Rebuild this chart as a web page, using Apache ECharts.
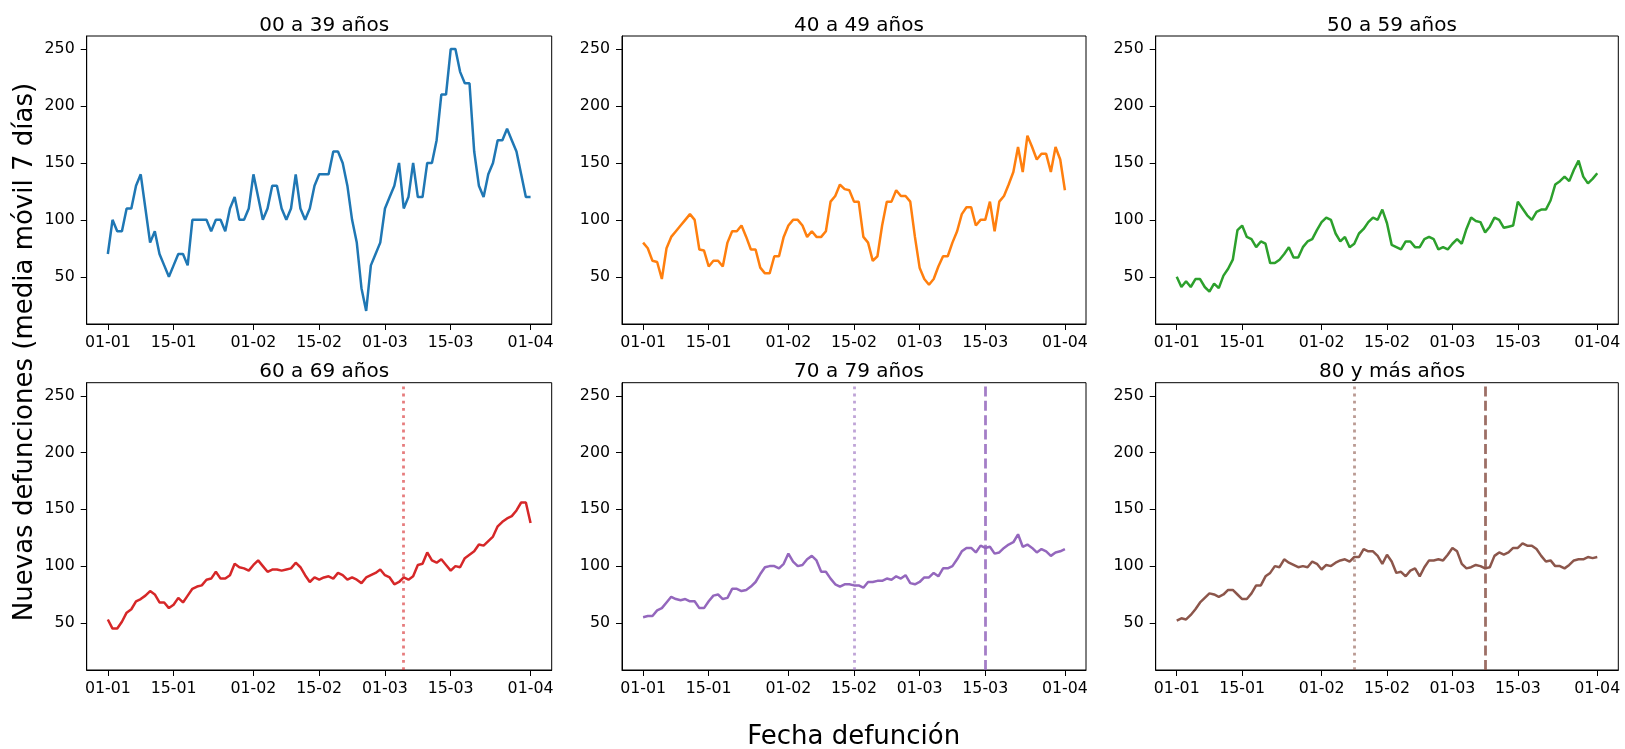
<!DOCTYPE html>
<html>
<head>
<meta charset="utf-8">
<script src="https://cdn.jsdelivr.net/npm/echarts@6/dist/echarts.min.js"></script>
<style>
html,body{margin:0;padding:0;background:#fff;}
#chart{width:1625px;height:749px;}
</style>
</head>
<body>
<div id="chart"></div>
<script>
// ---- data (daily values, 01-01-2021 .. 01-04-2021) ----
const startDate = '2021-01-01';
const panelTitles = ['00 a 39 años', '40 a 49 años', '50 a 59 años', '60 a 69 años', '70 a 79 años', '80 y más años'];
const tickDates = ['2021-01-01', '2021-01-15', '2021-02-01', '2021-02-15', '2021-03-01', '2021-03-15', '2021-04-01'];
const tickLabels = ['01-01', '15-01', '01-02', '15-02', '01-03', '15-03', '01-04'];
const yTicks = [50, 100, 150, 200, 250];

const s00_39 = [70,100,90,90,110,110,130,140,110,80,90,70,60,50,60,70,70,60,100,100,
  100,100,90,100,100,90,110,120,100,100,110,140,120,100,110,130,130,110,100,110,
  140,110,100,110,130,140,140,140,160,160,150,130,100,80,40,20,60,70,80,110,
  120,130,150,110,120,150,120,120,150,150,170,210,210,250,250,230,220,220,160,130,
  120,140,150,170,170,180,170,160,140,120,120];
const s40_49 = [80,75,64,63,48,75,85,90,95,100,105,100,74,73,59,64,64,59,80,90,
  90,95,85,74,74,58,53,53,68,68,85,95,100,100,95,85,90,85,85,90,
  116,121,131,127,126,116,116,85,80,64,68,95,116,116,126,121,121,116,85,58,
  48,43,48,59,68,68,80,90,105,111,111,95,100,100,116,90,116,121,131,142,
  164,142,174,164,153,158,158,142,164,153,126];
const s50_59 = [50,41,46,41,48,48,41,37,44,40,51,57,65,91,95,85,83,76,81,79,
  62,62,65,70,76,67,67,76,81,83,91,98,102,100,88,81,85,76,79,88,
  92,98,102,100,109,97,78,76,74,81,81,76,76,83,85,83,74,76,74,79,
  83,79,92,102,99,98,89,94,102,100,93,94,95,116,110,104,100,107,109,109,
  117,131,134,138,134,144,152,138,132,136,141];
const s60_69 = [53,45,45,51,59,62,69,71,74,78,75,68,68,63,66,72,68,74,80,82,
  83,88,89,95,89,89,92,102,99,98,96,101,105,100,95,97,97,96,97,98,
  103,99,92,86,90,88,90,91,89,94,92,88,90,88,85,90,92,94,97,92,
  90,84,86,90,88,91,101,102,112,105,103,106,101,96,100,99,107,110,113,119,
  118,122,126,135,139,142,144,149,156,156,138];
const s70_79 = [55,56,56,61,63,68,73,71,70,71,69,69,63,63,69,74,75,71,72,80,
  80,78,79,82,86,93,99,100,100,98,102,111,104,100,101,106,109,105,95,95,
  89,84,82,84,84,83,83,81,86,86,87,87,89,88,91,89,92,85,84,86,
  90,90,94,91,98,98,100,106,113,116,116,112,118,116,117,111,112,116,119,121,
  128,117,119,116,112,115,113,109,112,113,115];
const s80_mas = [52,54,53,57,62,68,72,76,75,73,75,79,79,75,71,71,76,83,83,91,
  94,100,99,106,103,101,99,100,99,104,102,97,101,100,103,105,106,104,108,108,
  115,113,113,109,102,110,104,94,95,91,96,98,91,99,105,105,106,105,110,116,
  113,102,98,99,101,100,98,99,109,112,110,112,116,116,120,118,118,115,109,104,
  105,100,100,98,101,105,106,106,108,107,108];
const seriesValues = [s00_39, s40_49, s50_59, s60_69, s70_79, s80_mas];
const seriesColors = ['#1f77b4', '#ff7f0e', '#2ca02c', '#d62728', '#9467bd', '#8c564b'];

// reference lines: [panel index, date, kind]
const refLines = [
  [3, '2021-03-05', 'dotted'],
  [4, '2021-02-15', 'dotted'],
  [4, '2021-03-15', 'dashed'],
  [5, '2021-02-08', 'dotted'],
  [5, '2021-03-08', 'dashed']
];

// ---- helpers ----
const DAY = 86400000;
const t0 = Date.parse(startDate + 'T00:00:00Z');
const dayIndex = d => Math.round((Date.parse(d + 'T00:00:00Z') - t0) / DAY);
const tickDays = tickDates.map(dayIndex);

// ---- layout ----
const colLeft = [86.7, 622, 1155.7];
const colWidth = [465, 464, 462.6];
const rowTop = [36, 382.7];
const rowHeight = [288, 287.3];
const FONT = 'DejaVu Sans';

const grids = [], xAxes = [], yAxes = [], series = [], titles = [];
for (let i = 0; i < 6; i++) {
  const r = Math.floor(i / 3), c = i % 3;
  grids.push({left: colLeft[c], top: rowTop[r], width: colWidth[c], height: rowHeight[r],
    show: true, borderColor: '#000', borderWidth: 1, backgroundColor: '#fff', containLabel: false});
  xAxes.push({
    type: 'value', gridIndex: i, min: -4.5, max: 94.5,
    splitLine: {show: false},
    axisLine: {show: true, onZero: false, lineStyle: {color: '#000', width: 1}},
    axisTick: {show: true, length: 6, lineStyle: {color: '#000', width: 1}, customValues: tickDays},
    axisLabel: {show: true, margin: 11, color: '#000', fontFamily: FONT, fontSize: 15.8,
      customValues: tickDays,
      formatter: v => { const k = tickDays.indexOf(Math.round(v)); return k >= 0 ? tickLabels[k] : ''; }}
  });
  yAxes.push({
    type: 'value', gridIndex: i, min: 8.5, max: 261.5,
    splitLine: {show: false},
    axisLine: {show: true, onZero: false, lineStyle: {color: '#000', width: 1}},
    axisTick: {show: true, length: 6, lineStyle: {color: '#000', width: 1}, customValues: yTicks},
    axisLabel: {show: true, margin: 12, color: '#000', fontFamily: FONT, fontSize: 15.8, customValues: yTicks}
  });
  const marks = refLines.filter(m => m[0] === i).map(m => ({
    xAxis: dayIndex(m[1]),
    lineStyle: m[2] === 'dotted'
      ? {color: seriesColors[i], opacity: 0.6, width: 2.8, type: [2.8, 4.4]}
      : {color: seriesColors[i], opacity: 0.85, width: 2.8, type: [10, 4.4]}
  }));
  series.push({
    type: 'line', xAxisIndex: i, yAxisIndex: i,
    data: seriesValues[i].map((v, k) => [k, v]),
    showSymbol: false, symbol: 'none', animation: false,
    lineStyle: {color: seriesColors[i], width: 2.5},
    itemStyle: {color: seriesColors[i]},
    markLine: marks.length ? {symbol: ['none', 'none'], silent: true, animation: false,
      label: {show: false}, emphasis: {disabled: true}, data: marks} : undefined
  });
  titles.push({text: panelTitles[i], left: colLeft[c] + colWidth[c] / 2, textAlign: 'center',
    top: r === 0 ? 10.8 : 357,
    textStyle: {fontFamily: FONT, fontSize: 20, fontWeight: 'normal', color: '#000'}});
}

const chart = echarts.init(document.getElementById('chart'), null, {renderer: 'canvas'});
chart.setOption({
  animation: false,
  backgroundColor: '#fff',
  title: titles,
  grid: grids, xAxis: xAxes, yAxis: yAxes, series: series,
  graphic: [
    {type: 'text', x: 25.6, y: 352, rotation: Math.PI / 2,
      style: {text: 'Nuevas defunciones (media móvil 7 días)', fontFamily: FONT, fontSize: 26,
        fill: '#000', align: 'center', verticalAlign: 'middle'}},
    {type: 'text', x: 853.7, y: 737.3,
      style: {text: 'Fecha defunción', fontFamily: FONT, fontSize: 26,
        fill: '#000', align: 'center', verticalAlign: 'middle'}}
  ]
});
</script>
</body>
</html>
